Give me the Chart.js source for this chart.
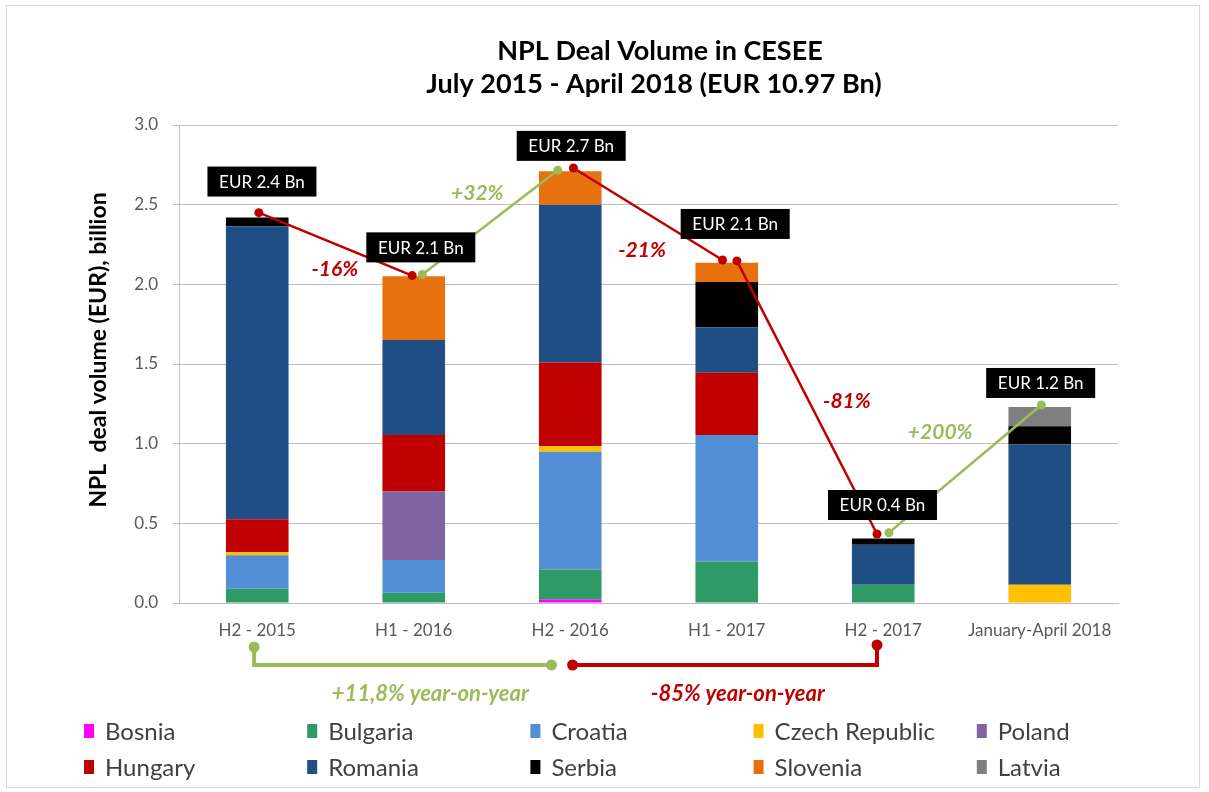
<!DOCTYPE html>
<html>
<head>
<meta charset="utf-8">
<script src="https://cdn.jsdelivr.net/npm/chart.js@4.4.1/dist/chart.umd.min.js"></script>
<style>
body { margin: 0; background: #fff; }
canvas { display: block; }
</style>
</head>
<body>
<canvas id="npl" width="1209" height="792"></canvas>
<script>
// periods on the x axis
var categories = ['H2 - 2015', 'H1 - 2016', 'H2 - 2016', 'H1 - 2017', 'H2 - 2017', 'January-April 2018'];

// deal volume per country, EUR bn
var bosnia   = [0,     0,     0.02,  0,     0,     0];
var bulgaria = [0.09,  0.065, 0.19,  0.26,  0.115, 0];
var croatia  = [0.21,  0.205, 0.74,  0.795, 0,     0];
var czech    = [0.02,  0,     0.035, 0,     0,     0.115];
var poland   = [0,     0.43,  0,     0,     0,     0];
var hungary  = [0.205, 0.355, 0.525, 0.39,  0,     0];
var romania  = [1.84,  0.595, 0.99,  0.285, 0.25,  0.88];
var serbia   = [0.055, 0,     0,     0.285, 0.04,  0.115];
var slovenia = [0,     0.4,   0.21,  0.12,  0,     0];
var latvia   = [0,     0,     0,     0,     0,     0.12];

var yTicks = [0, 0.5, 1.0, 1.5, 2.0, 2.5, 3.0];

// total per period and the change markers
var totalLabels = ['EUR 2.4 Bn', 'EUR 2.1 Bn', 'EUR 2.7 Bn', 'EUR 2.1 Bn', 'EUR 0.4 Bn', 'EUR 1.2 Bn'];
var declinePoints = [
  {x: 0.01, y: 2.45}, {x: 0.99, y: 2.055}, {x: 1.5, y: null},
  {x: 2.02, y: 2.73}, {x: 2.973, y: 2.153}, {x: 3.02, y: null},
  {x: 3.065, y: 2.147}, {x: 3.96, y: 0.433}
];
var growthPoints = [
  {x: 1.055, y: 2.062}, {x: 1.92, y: 2.716}, {x: 3, y: null},
  {x: 4.036, y: 0.441}, {x: 5.01, y: 1.243}
];
var changeLabels = ['-16%', '+32%', '-21%', '-81%', '+200%'];
var yoyLabels = ['+11,8% year-on-year', '-85% year-on-year'];

// placement of the annotations (category units / value units)
var totalBoxPos = [[0.03, 2.645], [1.045, 2.232], [2.006, 2.869], [3.054, 2.379], [3.995, 0.615], [5.006, 1.381]];
var changePos = [[0.496, 2.097], [1.406, 2.574], [2.459, 2.216], [3.768, 1.268], [4.364, 1.073]];
var changeIsUp = [false, true, false, false, true];

var RED = '#C00000';
var GREEN = '#9BBB59';
var FONT = 'Lato, "Open Sans", sans-serif';

var countries = [
  {name: 'Bosnia', data: bosnia, color: '#FF00FF'},
  {name: 'Bulgaria', data: bulgaria, color: '#2E9A66'},
  {name: 'Croatia', data: croatia, color: '#538FD6'},
  {name: 'Czech Republic', data: czech, color: '#FFC000'},
  {name: 'Poland', data: poland, color: '#8064A2'},
  {name: 'Hungary', data: hungary, color: '#C00000'},
  {name: 'Romania', data: romania, color: '#1F4E85'},
  {name: 'Serbia', data: serbia, color: '#000000'},
  {name: 'Slovenia', data: slovenia, color: '#E8710F'},
  {name: 'Latvia', data: latvia, color: '#7F7F7F'}
];

var datasets = countries.map(function (c) {
  return {
    label: c.name,
    data: c.data,
    backgroundColor: c.color,
    borderWidth: 0,
    grouped: false,
    barPercentage: 0.4,
    categoryPercentage: 1,
    xAxisID: 'x',
    yAxisID: 'y'
  };
});

datasets.push({
  type: 'line', label: 'decline', data: declinePoints, order: -1,
  borderColor: RED, backgroundColor: RED, borderWidth: 2.5,
  pointRadius: 4.5, pointBackgroundColor: RED, pointBorderWidth: 0,
  spanGaps: false, xAxisID: 'x2', yAxisID: 'y2'
});
datasets.push({
  type: 'line', label: 'growth', data: growthPoints, order: -1,
  borderColor: GREEN, backgroundColor: GREEN, borderWidth: 2.5,
  pointRadius: 4.5, pointBackgroundColor: GREEN, pointBorderWidth: 0,
  spanGaps: false, xAxisID: 'x2', yAxisID: 'y2'
});

var overlay = {
  id: 'overlay',
  beforeDraw: function (chart) {
    var ctx = chart.ctx;
    ctx.save();
    ctx.fillStyle = '#fff';
    ctx.fillRect(0, 0, chart.width, chart.height);
    ctx.strokeStyle = '#d9d9d9';
    ctx.lineWidth = 1;
    ctx.strokeRect(6.5, 5.5, 1193, 782);
    ctx.restore();
  },
  afterDatasetsDraw: function (chart) {
    var ctx = chart.ctx;
    var xs = chart.scales.x2, ys = chart.scales.y2;
    ctx.save();

    // totals in black boxes
    ctx.font = '17px ' + FONT;
    ctx.textAlign = 'center';
    ctx.textBaseline = 'middle';
    totalLabels.forEach(function (t, i) {
      var cx = xs.getPixelForValue(totalBoxPos[i][0]);
      var cy = ys.getPixelForValue(totalBoxPos[i][1]);
      ctx.fillStyle = '#000';
      ctx.fillRect(cx - 54.5, cy - 15, 109, 30);
      ctx.fillStyle = '#fff';
      ctx.fillText(t, cx, cy + 1);
    });

    // percentage changes
    ctx.font = 'italic bold 21px ' + FONT;
    changeLabels.forEach(function (t, i) {
      ctx.fillStyle = changeIsUp[i] ? GREEN : RED;
      ctx.fillText(t, xs.getPixelForValue(changePos[i][0]), ys.getPixelForValue(changePos[i][1]));
    });

    // year-on-year brackets under the axis
    function dot(x, y, c) {
      ctx.beginPath();
      ctx.fillStyle = c;
      ctx.arc(x, y, 5.5, 0, Math.PI * 2);
      ctx.fill();
    }
    ctx.lineWidth = 4;
    var g0 = xs.getPixelForValue(-0.02), g1 = xs.getPixelForValue(1.88);
    ctx.strokeStyle = GREEN;
    ctx.beginPath();
    ctx.moveTo(g0, 647); ctx.lineTo(g0, 665); ctx.lineTo(g1, 665);
    ctx.stroke();
    dot(g0, 647, GREEN); dot(g1, 665, GREEN);
    var r0 = xs.getPixelForValue(2.015), r1 = xs.getPixelForValue(3.96);
    ctx.strokeStyle = RED;
    ctx.beginPath();
    ctx.moveTo(r0, 665); ctx.lineTo(r1, 665); ctx.lineTo(r1, 645);
    ctx.stroke();
    dot(r0, 665, RED); dot(r1, 645, RED);
    ctx.font = 'italic bold 22px ' + FONT;
    ctx.fillStyle = GREEN;
    ctx.fillText(yoyLabels[0], xs.getPixelForValue(1.106), 694);
    ctx.fillStyle = RED;
    ctx.fillText(yoyLabels[1], xs.getPixelForValue(3.07), 694);

    // title
    ctx.fillStyle = '#000';
    ctx.font = 'bold 27px ' + FONT;
    ctx.fillText('NPL Deal Volume in CESEE', 660, 51);
    ctx.fillText('July 2015 - April 2018 (EUR 10.97 Bn)', 654, 84);

    // y axis title
    ctx.save();
    ctx.translate(99, 350);
    ctx.rotate(-Math.PI / 2);
    ctx.font = 'bold 23px ' + FONT;
    ctx.fillText('NPL  deal volume (EUR), billion', 0, 0);
    ctx.restore();

    // legend, 5 per row
    ctx.font = '24px ' + FONT;
    ctx.textAlign = 'left';
    countries.forEach(function (c, i) {
      var lx = 84 + (i % 5) * 223.2;
      var ly = i < 5 ? 731 : 767;
      ctx.fillStyle = c.color;
      ctx.fillRect(lx, ly - 7, 10, 14);
      ctx.fillStyle = '#404040';
      ctx.fillText(c.name, lx + 21, ly + 1);
    });

    ctx.restore();
  }
};

var context = document.getElementById('npl').getContext('2d');
var chart = new Chart(context, {
  type: 'bar',
  data: { labels: categories, datasets: datasets },
  plugins: [overlay],
  options: {
    responsive: false,
    animation: false,
    layout: { padding: { top: 125, left: 0, right: 91, bottom: 0 } },
    plugins: { legend: { display: false }, tooltip: { enabled: false } },
    scales: {
      x: {
        stacked: true,
        grid: { display: false, drawTicks: false },
        border: { display: true, color: '#BFBFBF', width: 1 },
        ticks: { color: '#595959', font: { family: FONT, size: 17 }, padding: 17, maxRotation: 0, autoSkip: false },
        afterFit: function (s) { s.height = 189; }
      },
      y: {
        stacked: true,
        min: 0, max: 3,
        afterBuildTicks: function (s) { s.ticks = yTicks.map(function (v) { return {value: v}; }); },
        grid: { color: '#BFBFBF', lineWidth: 1, drawTicks: true, tickLength: 6 },
        border: { display: true, color: '#BFBFBF', width: 1 },
        ticks: {
          color: '#595959', font: { family: FONT, size: 17 }, padding: 15,
          callback: function (v) { return Number(v).toFixed(1); }
        },
        afterFit: function (s) { s.width = 179; }
      },
      x2: { type: 'linear', min: -0.5, max: 5.5, offset: false, display: false },
      y2: { type: 'linear', min: 0, max: 3, display: false }
    }
  }
});
</script>
</body>
</html>
